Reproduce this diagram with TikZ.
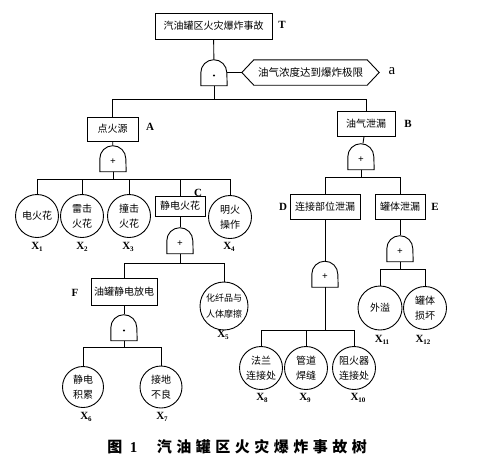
\documentclass[tikz,border=0pt]{standalone}
\usepackage{fontspec}
\setmainfont{Noto Sans CJK SC}
\newfontfamily\latinf{Liberation Serif}
\usetikzlibrary{calc}
\tikzset{
  wire/.style={line width=0.9pt},
  box/.style={draw, line width=0.9pt, inner sep=0pt, font=\fontsize{10}{12}\selectfont},
  ev/.style={draw, circle, line width=0.9pt, minimum size=43pt, inner sep=0pt, font=\fontsize{10}{15}\selectfont, align=center},
  gate/.style={minimum width=26pt, minimum height=26pt, inner sep=0pt},
  gsym/.style={inner sep=0pt, font=\latinf\bfseries\fontsize{10}{10}\selectfont},
  dotsym/.style={circle, fill, inner sep=0pt, minimum size=2.2pt},
  lbl/.style={inner sep=0pt, font=\latinf\bfseries\fontsize{11}{11}\selectfont},
  xl/.style={inner sep=0pt, font=\latinf\bfseries\fontsize{11}{11}\selectfont},
}
\newcommand\xsub[1]{X\kern-0.3pt\raisebox{-2.5pt}{\fontsize{7}{7}\selectfont #1}}
\newcommand\gateshape[2]{%
  \node[gate] (#1) at (#2) {};
  \draw[wire] (#1.south west) -- ([yshift=13pt]#1.south west) arc[start angle=180,end angle=0,radius=13pt] -- (#1.south east) -- cycle;}
\newcommand\orgate[2]{\gateshape{#1}{#2}\node[gsym] (#1s) at ([yshift=-3pt]#1.center) {+};}
\newcommand\andgate[2]{\gateshape{#1}{#2}\node[dotsym] (#1s) at ([yshift=-3pt]#1.center) {};}
\begin{document}
\begin{tikzpicture}[x=1pt,y=-1pt]
\useasboundingbox (0,0) rectangle (500,464);
% top
\node[box, minimum width=117pt, minimum height=26pt] (T) at (213.5,26) {汽油罐区火灾爆炸事故};
\node[lbl] (Tl) at (282,25) {T};
\andgate{gT}{214,72.5}
\node[minimum width=137pt, minimum height=25pt, inner sep=0pt, font=\fontsize{10.5}{12}\selectfont] (H) at (310.5,72.5) {油气浓度达到爆炸极限};
\draw[wire] (H.west) -- ([xshift=12pt]H.north west) -- ([xshift=-12pt]H.north east) -- (H.east) -- ([xshift=-12pt]H.south east) -- ([xshift=12pt]H.south west) -- cycle;
\node[inner sep=0pt, font=\latinf\fontsize{15}{15}\selectfont] (al) at (392,71) {a};
\draw[wire] (T) -- (gT);
\draw[wire] (gT.east) -- (H.west);
% level 2
\node[box, minimum width=51pt, minimum height=24pt] (A) at (112.5,129) {点火源};
\node[lbl] (Al) at (150,127) {A};
\node[box, minimum width=58pt, minimum height=25pt] (B) at (366,123.5) {油气泄漏};
\node[lbl] (Bl) at (408,124) {B};
\draw[wire] (gT.south) -- ++(0,14) -| (A.north);
\draw[wire] (gT.south) -- ++(0,14) -| (B.north);
% A branch
\orgate{gA}{113,158.5}
\draw[wire] (A) -- (gA);
\node[ev] (X1) at (37,216) {电火花};
\node[ev] (X2) at (82,216) {雷击\\火花};
\node[ev] (X3) at (129,216) {撞击\\火花};
\node[box, minimum width=50pt, minimum height=20pt] (C) at (180,206) {静电火花};
\node[lbl] (Cl) at (198,193) {C};
\node[ev] (X4) at (230,217) {明火\\操作};
\foreach \n in {X1,X2,X3,C,X4} \draw[wire] (gA.south) -- ++(0,8) -| (\n.north);
\node[xl] (X1l) at (37,247) {\xsub{1}};
\node[xl] (X2l) at (82,247) {\xsub{2}};
\node[xl] (X3l) at (128,247) {\xsub{3}};
\node[xl] (X4l) at (229,247) {\xsub{4}};
% C branch
\orgate{gC}{180,240.5}
\draw[wire] (C) -- (gC);
\node[box, minimum width=66pt, minimum height=27pt] (F) at (124,291.5) {油罐静电放电};
\node[lbl] (Fl) at (75,293) {F};
\node[ev, minimum size=48pt, font=\fontsize{9}{16}\selectfont] (X5) at (224,306) {化纤品与\\人体摩擦};
\node[xl] (X5l) at (223,335) {\xsub{5}};
\draw[wire] (gC.south) -- ++(0,9.5) -| (F.north);
\draw[wire] (gC.south) -- ++(0,9.5) -| (X5.north);
% F branch
\andgate{gF}{124,327.5}
\draw[wire] (F) -- (gF);
\node[ev, minimum size=41pt] (X6) at (83,387) {静电\\积累};
\node[ev, minimum size=42pt] (X7) at (161,387) {接地\\不良};
\draw[wire] (gF.south) -- ++(0,6.5) -| (X6.north);
\draw[wire] (gF.south) -- ++(0,6.5) -| (X7.north);
\node[xl] (X6l) at (86,417) {\xsub{6}};
\node[xl] (X7l) at (162,417) {\xsub{7}};
% B branch
\orgate{gB}{361,156.5}
\draw[wire] (B) -- (gB);
\node[box, minimum width=70pt, minimum height=25pt] (D) at (325,206.5) {连接部位泄漏};
\node[lbl] (Dl) at (283,207) {D};
\node[box, minimum width=50pt, minimum height=25pt] (E) at (400,206.5) {罐体泄漏};
\node[lbl] (El) at (435,207) {E};
\draw[wire] (gB.south) -- ++(0,7.5) -| (D.north);
\draw[wire] (gB.south) -- ++(0,7.5) -| (E.north);
% D branch
\orgate{gD}{325,274}
\draw[wire] (D) -- (gD);
\node[ev] (X8) at (261,368) {法兰\\连接处};
\node[ev] (X9) at (306,368) {管道\\焊缝};
\node[ev] (X10) at (354,368) {阻火器\\连接处};
\foreach \n in {X8,X9,X10} \draw[wire] (gD.south) -- ++(0,43) -| (\n.north);
\node[xl] (X8l) at (262,398) {\xsub{8}};
\node[xl] (X9l) at (305,398) {\xsub{9}};
\node[xl] (X10l) at (358,398) {\xsub{10}};
% E branch
\orgate{gE}{400,248.5}
\draw[wire] (E) -- (gE);
\node[ev, minimum size=44pt] (X11) at (380,308) {外溢};
\node[ev] (X12) at (425,308) {罐体\\损坏};
\draw[wire] (gE.south) -- ++(0,7.5) -| (X11.north);
\draw[wire] (gE.south) -- ++(0,7.5) -| (X12.north);
\node[xl] (X11l) at (382,340) {\xsub{11}};
\node[xl] (X12l) at (423,340) {\xsub{12}};
% caption
\node[inner sep=0pt, font=\bfseries\fontsize{15}{15}\selectfont] (cap) at (237,447) {图\hspace{0.5em}{\latinf 1}\hspace{1.3em}\addfontfeature{LetterSpace=30}汽油罐区火灾爆炸事故树};
\end{tikzpicture}
\end{document}
